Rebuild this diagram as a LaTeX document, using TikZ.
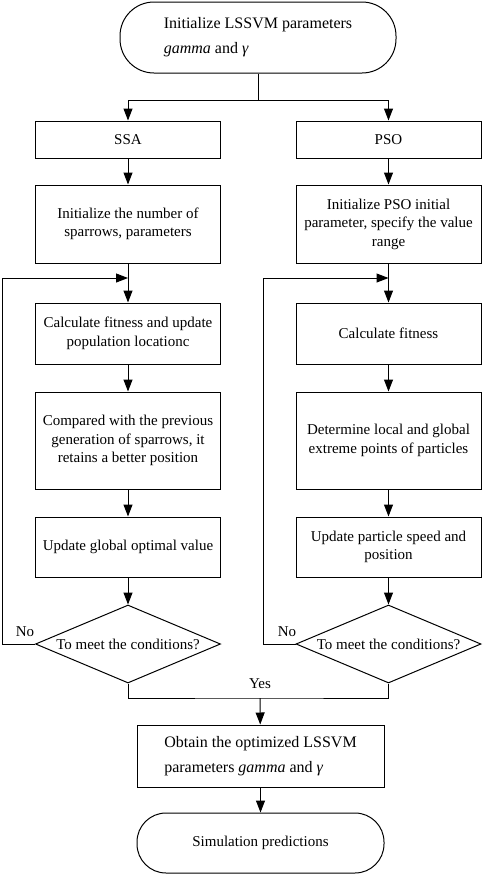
\documentclass[tikz,border=0pt]{standalone}
\usepackage{fontspec}
\setmainfont{Liberation Serif}
\usetikzlibrary{shapes.geometric,arrows.meta}

\begin{document}
\begin{tikzpicture}[x=1pt,y=-1pt,line width=1pt,
            font=\fontsize{15}{18.5}\selectfont,
            box/.style={draw,minimum width=185pt,align=center,inner sep=2pt},
            term/.style={draw,inner sep=2pt},
            big/.style={font=\fontsize{16}{25}\selectfont,align=left},
            cond/.style={draw,diamond,aspect=2.37,minimum width=185pt,minimum height=78pt,inner sep=0pt},
            arr/.style={-{Triangle[length=12pt,width=9pt]}}]
            \useasboundingbox (0,0) rectangle (484,876);

            \node (t) at (258,37.5) [term,big,minimum width=276pt,minimum height=71pt,rounded corners=34pt] {Initialize LSSVM parameters\\\textit{gamma} and \textit{γ}};

            \node (a) at (128,139.5) [box,minimum height=37pt] {SSA};
            \node (b) at (388.5,139.5) [box,minimum height=37pt] {PSO};
            \node (a1) at (128,224) [box,minimum height=78pt] {Initialize the number of\\sparrows, parameters};
            \node (b1) at (388.5,224) [box,minimum height=78pt] {Initialize PSO initial\\parameter, specify the value\\range};
            \node (a2) at (128,333.5) [box,minimum height=61pt] {Calculate fitness and update\\population locationc};
            \node (b2) at (388.5,333.5) [box,minimum height=61pt] {Calculate fitness};
            \node (a3) at (128,440.5) [box,minimum height=97pt] {Compared with the previous\\generation of sparrows, it\\retains a better position};
            \node (b3) at (388.5,440.5) [box,minimum height=97pt] {Determine local and global\\extreme points of particles};
            \node (a4) at (128,547) [box,minimum height=60pt] {Update global optimal value};
            \node (b4) at (388.5,547) [box,minimum height=60pt] {Update particle speed and\\position};
            \node (a5) at (128,644) [cond] {To meet the conditions?};
            \node (b5) at (388.5,644) [cond] {To meet the conditions?};

            \node (c) at (260.5,756) [box,big,minimum width=247pt,minimum height=62pt] {Obtain the optimized LSSVM\\parameters \textit{gamma} and \textit{γ}};
            \node (d) at (260.5,843) [term,minimum width=247pt,minimum height=60pt,rounded corners=29pt] {Simulation predictions};

            \node (na) at (25,632) {No};
            \node (nb) at (287,632) {No};
            \node (y) at (260,684) {Yes};

            \coordinate (s) at (258,100);
            \coordinate (m) at (260,698);
            \coordinate (la) at (2,644);
            \coordinate (lb) at (263,644);
            \coordinate (ja) at (128,278);
            \coordinate (jb) at (388.5,278);

            \draw (t) -- (s);
            \draw[arr] (s) -| (a);
            \draw[arr] (s) -| (b);
            \draw[arr] (a) -- (a1);
            \draw[arr] (b) -- (b1);
            \draw[arr] (a1) -- (a2);
            \draw[arr] (b1) -- (b2);
            \draw[arr] (a2) -- (a3);
            \draw[arr] (b2) -- (b3);
            \draw[arr] (a3) -- (a4);
            \draw[arr] (b3) -- (b4);
            \draw[arr] (a4) -- (a5);
            \draw[arr] (b4) -- (b5);
            \draw[arr] (a5.west) -- (la) |- (ja);
            \draw[arr] (b5.west) -- (lb) |- (jb);
            \draw (a5.south) |- (m) -| (b5.south);
            \draw[arr] (m) -- (c);
            \draw[arr] (c) -- (d);

        \end{tikzpicture}
\end{document}
